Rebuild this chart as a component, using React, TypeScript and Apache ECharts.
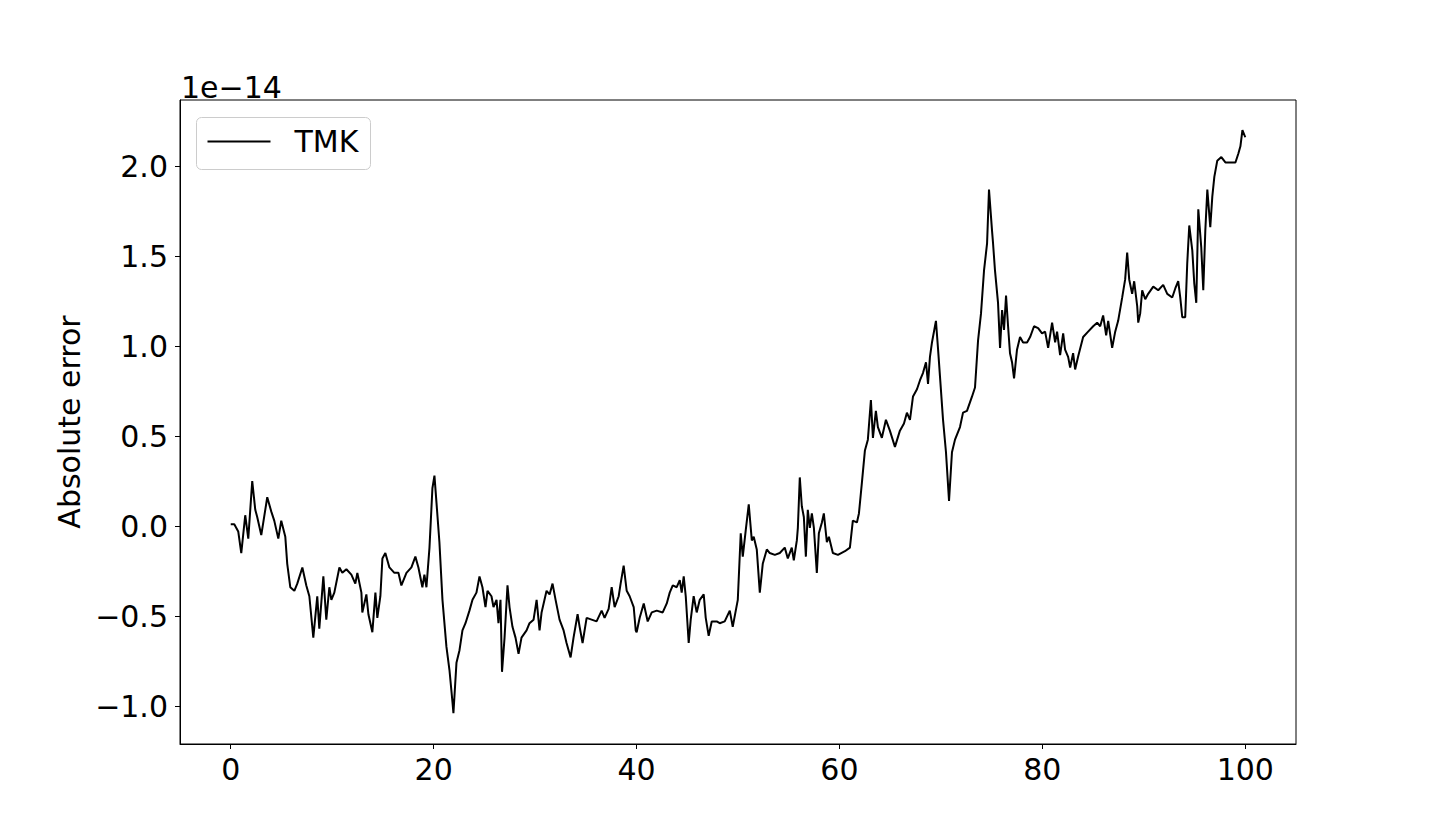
import React, { useEffect, useRef } from "react";
import * as echarts from "echarts";

const FONT = "DejaVu Sans";

// time (x) values
const tValues = [
  0, 0.35, 0.74, 1.04, 1.43, 1.73, 2.12, 2.42, 2.61, 3.01, 3.21, 3.6, 4.0, 4.29, 4.69, 4.98, 5.38, 5.57, 5.87, 6.27,
  6.56, 7.06, 7.45, 7.75, 8.14, 8.53, 8.73, 9.13, 9.42, 9.72, 9.92, 10.21, 10.71, 11.0, 11.4, 11.89, 12.28, 12.48, 12.88, 12.97,
  13.37, 13.57, 13.96, 14.26, 14.45, 14.75, 14.95, 15.24, 15.64, 16.13, 16.53, 16.82, 17.32, 17.81, 18.2, 18.5, 18.89, 19.09, 19.29, 19.59,
  19.88, 20.08, 20.28, 20.57, 20.87, 21.26, 21.56, 21.86, 21.95, 22.25, 22.55, 22.84, 23.14, 23.53, 23.83, 24.22, 24.52, 24.81, 25.11, 25.31,
  25.7, 25.9, 26.2, 26.39, 26.59, 26.74, 26.99, 27.28, 27.48, 27.77, 28.07, 28.37, 28.66, 29.16, 29.45, 29.85, 30.15, 30.44, 30.64, 31.13,
  31.43, 31.72, 32.02, 32.41, 32.81, 33.1, 33.5, 33.79, 34.19, 34.39, 34.68, 35.08, 35.57, 36.06, 36.56, 36.85, 37.25, 37.55, 37.84, 38.24,
  38.43, 38.73, 39.03, 39.32, 39.72, 39.92, 40.01, 40.31, 40.71, 41.1, 41.5, 41.99, 42.58, 42.98, 43.27, 43.57, 43.96, 44.26, 44.45, 44.65,
  44.85, 45.14, 45.34, 45.63, 45.93, 46.23, 46.62, 46.82, 47.11, 47.41, 47.9, 48.2, 48.69, 49.19, 49.48, 49.78, 49.98, 50.27, 50.47, 50.77,
  51.06, 51.36, 51.55, 51.85, 52.15, 52.44, 52.84, 53.13, 53.63, 54.12, 54.61, 54.91, 55.3, 55.5, 55.8, 55.9, 56.09, 56.29, 56.49, 56.69,
  56.88, 57.08, 57.28, 57.48, 57.77, 57.97, 58.27, 58.46, 58.76, 58.96, 59.35, 59.85, 60.54, 61.03, 61.32, 61.72, 61.92, 62.21, 62.51, 62.8,
  63.1, 63.3, 63.59, 63.79, 64.18, 64.58, 64.97, 65.47, 65.96, 66.36, 66.65, 66.95, 67.25, 67.64, 67.94, 68.23, 68.53, 68.73, 68.92, 69.12,
  69.51, 69.71, 69.91, 70.21, 70.5, 70.8, 71.09, 71.39, 71.88, 72.18, 72.57, 73.07, 73.36, 73.66, 73.95, 74.25, 74.55, 74.74, 75.04, 75.14,
  75.33, 75.63, 75.83, 76.03, 76.22, 76.42, 76.62, 76.81, 77.01, 77.21, 77.5, 77.8, 78.1, 78.49, 78.79, 79.18, 79.58, 79.97, 80.27, 80.57,
  80.96, 81.26, 81.45, 81.75, 82.05, 82.24, 82.54, 82.74, 83.03, 83.23, 83.52, 84.02, 84.51, 85.01, 85.4, 85.7, 85.99, 86.29, 86.49, 86.88,
  87.18, 87.47, 87.87, 88.16, 88.36, 88.56, 88.85, 89.05, 89.35, 89.45, 89.64, 89.84, 90.14, 90.43, 90.93, 91.42, 91.91, 92.31, 92.8, 93.1,
  93.39, 93.59, 93.79, 94.08, 94.28, 94.48, 94.78, 94.97, 95.17, 95.37, 95.66, 95.86, 96.06, 96.26, 96.55, 96.75, 96.95, 97.24, 97.64, 98.04,
  98.53, 99.03, 99.32, 99.52, 99.72, 100.0,
];

// absolute error, in units of 1e-14
const tmkError = [
  0.01, 0.01, -0.03, -0.15, 0.06, -0.07, 0.25, 0.09, 0.05, -0.05, 0.02, 0.16, 0.08, 0.03, -0.07, 0.03, -0.06, -0.21, -0.34, -0.36,
  -0.32, -0.23, -0.33, -0.39, -0.62, -0.39, -0.57, -0.28, -0.52, -0.34, -0.41, -0.37, -0.23, -0.26, -0.24, -0.27, -0.32, -0.26, -0.37, -0.48,
  -0.38, -0.49, -0.59, -0.37, -0.51, -0.39, -0.18, -0.15, -0.23, -0.26, -0.26, -0.33, -0.26, -0.23, -0.17, -0.23, -0.34, -0.27, -0.34, -0.12,
  0.21, 0.28, 0.13, -0.09, -0.41, -0.67, -0.8, -0.98, -1.04, -0.76, -0.69, -0.58, -0.54, -0.47, -0.41, -0.37, -0.28, -0.34, -0.45, -0.36,
  -0.39, -0.45, -0.41, -0.54, -0.41, -0.81, -0.62, -0.33, -0.45, -0.56, -0.62, -0.71, -0.62, -0.58, -0.54, -0.52, -0.41, -0.58, -0.48, -0.36,
  -0.38, -0.32, -0.41, -0.52, -0.58, -0.65, -0.73, -0.62, -0.49, -0.56, -0.65, -0.51, -0.52, -0.53, -0.47, -0.51, -0.46, -0.34, -0.45, -0.39,
  -0.32, -0.22, -0.36, -0.39, -0.45, -0.58, -0.59, -0.51, -0.43, -0.53, -0.48, -0.47, -0.48, -0.43, -0.37, -0.33, -0.34, -0.3, -0.37, -0.28,
  -0.39, -0.65, -0.52, -0.39, -0.48, -0.41, -0.38, -0.51, -0.61, -0.53, -0.53, -0.54, -0.53, -0.47, -0.56, -0.47, -0.41, -0.04, -0.17, -0.02,
  0.12, -0.08, -0.06, -0.13, -0.37, -0.21, -0.13, -0.15, -0.16, -0.15, -0.12, -0.18, -0.12, -0.19, -0.08, -0.01, 0.27, 0.11, 0.05, -0.17,
  0.09, -0.01, 0.07, -0.01, -0.26, -0.04, 0.02, 0.07, -0.09, -0.06, -0.15, -0.16, -0.14, -0.12, 0.03, 0.02, 0.07, 0.24, 0.42, 0.48,
  0.7, 0.49, 0.64, 0.55, 0.49, 0.59, 0.53, 0.44, 0.53, 0.57, 0.63, 0.59, 0.72, 0.76, 0.81, 0.85, 0.91, 0.79, 0.94, 1.02,
  1.14, 0.99, 0.83, 0.59, 0.41, 0.14, 0.41, 0.48, 0.55, 0.63, 0.64, 0.72, 0.77, 1.03, 1.18, 1.42, 1.57, 1.87, 1.64, 1.57,
  1.42, 1.24, 0.99, 1.2, 1.09, 1.28, 1.11, 0.96, 0.91, 0.82, 0.98, 1.05, 1.02, 1.02, 1.05, 1.11, 1.1, 1.07, 1.08, 0.99,
  1.13, 1.02, 1.08, 0.95, 1.07, 0.98, 0.94, 0.88, 0.96, 0.87, 0.94, 1.05, 1.08, 1.11, 1.13, 1.11, 1.17, 1.06, 1.14, 0.99,
  1.08, 1.14, 1.27, 1.37, 1.52, 1.37, 1.29, 1.36, 1.22, 1.13, 1.18, 1.31, 1.26, 1.29, 1.33, 1.31, 1.34, 1.29, 1.27, 1.32,
  1.36, 1.27, 1.16, 1.16, 1.46, 1.67, 1.53, 1.35, 1.24, 1.76, 1.55, 1.31, 1.64, 1.87, 1.66, 1.83, 1.94, 2.03, 2.05, 2.02,
  2.02, 2.02, 2.07, 2.11, 2.2, 2.16,
];

const xTicks = [0, 20, 40, 60, 80, 100];
const yTicks = [-1.0, -0.5, 0.0, 0.5, 1.0, 1.5, 2.0];
const xRange = [-5, 105];
const yRange = [-1.211, 2.367];
const seriesName = "TMK";
const yLabel = "Absolute error";
const offsetText = "1e\u221214";

const fmtY = (v: number) => (v < 0 ? "\u2212" : "") + Math.abs(v).toFixed(1);

export default function App() {
  const ref = useRef<HTMLDivElement>(null);
  useEffect(() => {
    if (!ref.current) return;
    const chart = echarts.init(ref.current, null, { renderer: "svg" });
    const data = tValues.map((t, i) => [t, tmkError[i]]);
    chart.setOption({
      animation: false,
      backgroundColor: "#fff",
      grid: {
        left: 180,
        top: 100,
        right: 144,
        bottom: 92,
        show: true,
        borderColor: "#000",
        borderWidth: 1,
        backgroundColor: "transparent",
      },
      xAxis: {
        type: "value",
        min: xRange[0],
        max: xRange[1],
        axisLine: { show: true, onZero: false, lineStyle: { color: "#000", width: 1 } },
        axisTick: { show: true, inside: false, length: 5, customValues: xTicks, lineStyle: { color: "#000", width: 1 } },
        axisLabel: {
          customValues: xTicks,
          fontSize: 30,
          fontFamily: FONT,
          color: "#000",
          margin: 10,
          formatter: (v: number) => String(v),
        },
        splitLine: { show: false },
      },
      yAxis: {
        type: "value",
        min: yRange[0],
        max: yRange[1],
        name: yLabel,
        nameLocation: "middle",
        nameRotate: 90,
        nameGap: 90,
        nameTextStyle: { fontSize: 30, fontFamily: FONT, color: "#000" },
        axisLine: { show: true, onZero: false, lineStyle: { color: "#000", width: 1 } },
        axisTick: { show: true, inside: false, length: 5, customValues: yTicks, lineStyle: { color: "#000", width: 1 } },
        axisLabel: {
          customValues: yTicks,
          fontSize: 30,
          fontFamily: FONT,
          color: "#000",
          margin: 12,
          formatter: fmtY,
        },
        splitLine: { show: false },
      },
      series: [
        {
          name: seriesName,
          type: "line",
          data,
          showSymbol: false,
          symbol: "none",
          lineStyle: { color: "#000", width: 2 },
          z: 3,
        },
      ],
      graphic: [
        {
          type: "text",
          left: 181,
          top: 72,
          style: { text: offsetText, fontSize: 30, fontFamily: FONT, fill: "#000" },
        },
        {
          type: "group",
          left: 196,
          top: 117,
          children: [
            {
              type: "rect",
              shape: { x: 0, y: 0, width: 174, height: 52, r: 5 },
              style: { fill: "rgba(255,255,255,0.8)", stroke: "#cccccc", lineWidth: 1 },
            },
            {
              type: "line",
              shape: { x1: 11, y1: 24, x2: 74, y2: 24 },
              style: { stroke: "#000", lineWidth: 2 },
            },
            {
              type: "text",
              x: 98,
              y: 24,
              style: { text: seriesName, fontSize: 30, fontFamily: FONT, fill: "#000", verticalAlign: "middle" },
            },
          ],
        },
      ],
    });
    return () => chart.dispose();
  }, []);
  return (
    <div
      ref={ref}
      style={{ position: "absolute", left: 0, top: 0, width: "1440px", height: "836px", background: "#fff" }}
    />
  );
}
